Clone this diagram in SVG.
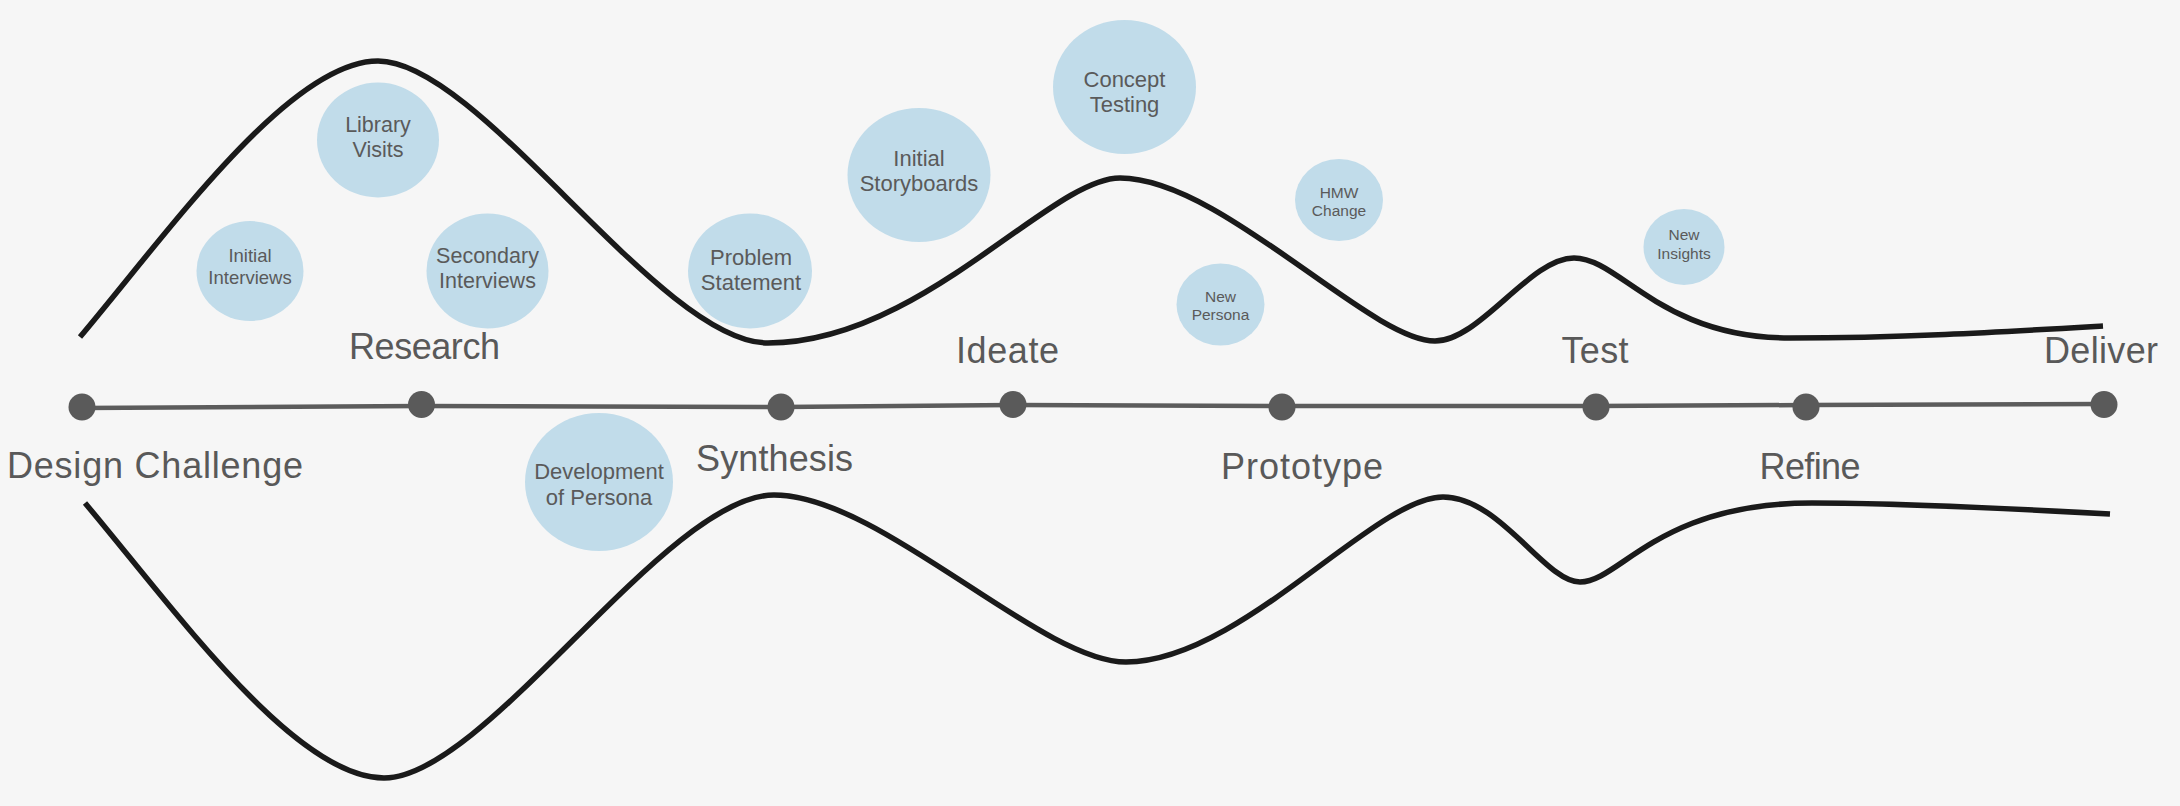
<svg xmlns="http://www.w3.org/2000/svg" width="2180" height="806" viewBox="0 0 2180 806">
<style>
.bg{fill:#f6f6f6}
.wave{fill:none;stroke:#1a1a1a;stroke-width:5.5;stroke-linecap:butt;stroke-linejoin:round}
.axis{fill:none;stroke:#5c5c5c;stroke-width:4.5}
.dot{fill:#5a5a5a}
.bub{fill:#c1dcea}
.phase{font-family:"Liberation Sans",Arial,sans-serif;font-size:36px;fill:#595959;text-anchor:middle}
.bt{font-family:"Liberation Sans",Arial,sans-serif;fill:#5a5a5a;text-anchor:middle}
.b22{font-size:22px}
.b21{font-size:21.5px}
.b18{font-size:18.5px}
.b15{font-size:15.5px}
</style>
<rect class="bg" x="0" y="0" width="2180" height="806"/>
<g id="connectors">
<path class="wave" d="M80,337 C170,230 290,61 378,61 C480,61 660,343 768,343 C920,343 1050,178 1120,178 C1220,178 1370,341 1435,341 C1480,341 1530,258 1574,258 C1620,258 1660,338 1790,338 C1900,338 2000,332 2103,326"/>
<path class="wave" d="M85,503 C175,610 295,778 384,778 C486,778 666,495 774,495 C880,495 1040,662 1126,662 C1240,662 1374,497 1443,497 C1500,497 1545,582 1580,582 C1620,582 1657,503 1812,503 C1900,503 2000,508 2110,514"/>
<path class="axis" d="M82,408 L421,406 L781,407 L1013,405 L1282,406 L1596,406 L1806,405 L2104,404"/>
</g>
<g id="dc"><circle class="dot" cx="82" cy="407" r="13.5"/><text class="phase" x="155" y="478" textLength="296">Design Challenge</text></g>
<g id="research"><circle class="dot" cx="421.5" cy="404.5" r="13.5"/><text class="phase" x="424.5" y="359" textLength="151">Research</text></g>
<g id="synthesis"><circle class="dot" cx="781" cy="407" r="13.5"/><text class="phase" x="774.5" y="471" textLength="157">Synthesis</text></g>
<g id="ideate"><circle class="dot" cx="1013" cy="404.5" r="13.5"/><text class="phase" x="1007.5" y="363" textLength="103">Ideate</text></g>
<g id="prototype"><circle class="dot" cx="1282" cy="407" r="13.5"/><text class="phase" x="1302" y="479" textLength="162">Prototype</text></g>
<g id="test"><circle class="dot" cx="1596" cy="407" r="13.5"/><text class="phase" x="1595" y="363" textLength="67">Test</text></g>
<g id="refine"><circle class="dot" cx="1806" cy="407" r="13.5"/><text class="phase" x="1810" y="479" textLength="101">Refine</text></g>
<g id="deliver"><circle class="dot" cx="2104" cy="404.5" r="13.5"/><text class="phase" x="2101" y="363" textLength="114">Deliver</text></g>
<g id="initial-interviews"><ellipse class="bub" cx="250" cy="271" rx="53.5" ry="50"/><text class="bt b18" x="250" y="262">Initial</text><text class="bt b18" x="250" y="283.5">Interviews</text></g>
<g id="library-visits"><ellipse class="bub" cx="378" cy="140" rx="61" ry="57.5"/><text class="bt b21" x="378" y="131.5">Library</text><text class="bt b21" x="378" y="156.5">Visits</text></g>
<g id="secondary-interviews"><ellipse class="bub" cx="487.5" cy="271" rx="61" ry="57.5"/><text class="bt b21" x="487.5" y="262.5">Secondary</text><text class="bt b21" x="487.5" y="288">Interviews</text></g>
<g id="problem-statement"><ellipse class="bub" cx="750" cy="271" rx="62" ry="57.5"/><text class="bt b22" x="751" y="265">Problem</text><text class="bt b22" x="751" y="290">Statement</text></g>
<g id="development-persona"><ellipse class="bub" cx="599" cy="482" rx="74" ry="69"/><text class="bt b22" x="599" y="479">Development</text><text class="bt b22" x="599" y="505">of Persona</text></g>
<g id="initial-storyboards"><ellipse class="bub" cx="919" cy="175" rx="71.5" ry="67"/><text class="bt b22" x="919" y="166">Initial</text><text class="bt b22" x="919" y="191">Storyboards</text></g>
<g id="concept-testing"><ellipse class="bub" cx="1124.5" cy="87" rx="71.5" ry="67"/><text class="bt b22" x="1124.5" y="87">Concept</text><text class="bt b22" x="1124.5" y="111.5">Testing</text></g>
<g id="hmw-change"><ellipse class="bub" cx="1339" cy="200" rx="44" ry="41"/><text class="bt b15" x="1339" y="198">HMW</text><text class="bt b15" x="1339" y="216">Change</text></g>
<g id="new-persona"><ellipse class="bub" cx="1220.5" cy="304.5" rx="44" ry="41"/><text class="bt b15" x="1220.5" y="301.5">New</text><text class="bt b15" x="1220.5" y="320">Persona</text></g>
<g id="new-insights"><ellipse class="bub" cx="1684" cy="247" rx="40.5" ry="38"/><text class="bt b15" x="1684" y="240">New</text><text class="bt b15" x="1684" y="258.5">Insights</text></g>
</svg>
